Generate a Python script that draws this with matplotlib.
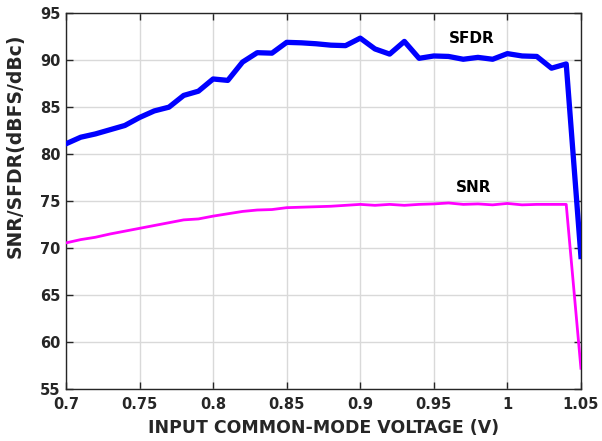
import matplotlib
matplotlib.use("Agg")
import matplotlib.pyplot as plt
import numpy as np

voltage = [0.70, 0.71, 0.72, 0.73, 0.74, 0.75, 0.76, 0.77, 0.78, 0.79,
           0.80, 0.81, 0.82, 0.83, 0.84, 0.85, 0.86, 0.87, 0.88, 0.89,
           0.90, 0.91, 0.92, 0.93, 0.94, 0.95, 0.96, 0.97, 0.98, 0.99,
           1.00, 1.01, 1.02, 1.03, 1.04, 1.05]
sfdr = [81.1, 81.8, 82.15, 82.6, 83.05, 83.9, 84.6, 85.0, 86.25, 86.7,
        88.0, 87.85, 89.8, 90.8, 90.75, 91.9, 91.85, 91.75, 91.6, 91.55,
        92.35, 91.2, 90.65, 92.0, 90.2, 90.45, 90.4, 90.1, 90.3, 90.1,
        90.7, 90.45, 90.4, 89.15, 89.6, 69.1]
snr = [70.55, 70.9, 71.15, 71.5, 71.8, 72.1, 72.4, 72.7, 73.0, 73.1,
       73.4, 73.65, 73.9, 74.05, 74.1, 74.3, 74.35, 74.4, 74.45, 74.55,
       74.65, 74.55, 74.65, 74.55, 74.65, 74.7, 74.8, 74.65, 74.7, 74.6,
       74.75, 74.6, 74.65, 74.65, 74.65, 57.2]

xticks = [0.7, 0.75, 0.8, 0.85, 0.9, 0.95, 1.0, 1.05]
xticklabels = ["0.7", "0.75", "0.8", "0.85", "0.9", "0.95", "1", "1.05"]
yticks = [55, 60, 65, 70, 75, 80, 85, 90, 95]

plt.rcParams['font.family'] = ['DejaVu Sans']
txt = '#262626'

fig = plt.figure(figsize=(6.02, 4.41), dpi=100)
ax = fig.add_axes([0.1096, 0.118, 0.8554, 0.852])

ax.plot(voltage, sfdr, color='#0000FF', lw=3.8, solid_joinstyle='round', zorder=3)
ax.plot(voltage, snr, color='#FF00FF', lw=2.0, zorder=3)

ax.set_xlim(0.7, 1.05)
ax.set_ylim(55, 95)
ax.set_xticks(xticks)
ax.set_xticklabels(xticklabels)
ax.set_yticks(yticks)
ax.grid(True, color='#d9d9d9', lw=1.0)
ax.set_axisbelow(True)
ax.tick_params(direction='in', top=True, right=True, length=5, width=1.0,
               colors='#262626', labelsize=10.5)
ax.tick_params(axis='x', pad=6)
ax.tick_params(axis='y', pad=4)
for lab in ax.get_xticklabels() + ax.get_yticklabels():
    lab.set_fontweight('bold')
    lab.set_color(txt)
for s in ax.spines.values():
    s.set_color('#262626')
    s.set_linewidth(1.0)

ax.set_xlabel('INPUT COMMON-MODE VOLTAGE (V)', fontsize=12.5, fontweight='bold',
              color=txt, labelpad=5)
ax.set_ylabel('SNR/SFDR(dBFS/dBc)', fontsize=13.5, fontweight='bold',
              color=txt)
ax.yaxis.label.set_va('center')
ax.yaxis.set_label_coords(-0.0996, 0.648)

ax.text(0.976, 92.3, 'SFDR', fontsize=11, fontweight='bold', color='black',
        ha='center', va='center')
ax.text(0.977, 76.4, 'SNR', fontsize=11, fontweight='bold', color='black',
        ha='center', va='center')

fig.savefig('out.png', dpi=100)
